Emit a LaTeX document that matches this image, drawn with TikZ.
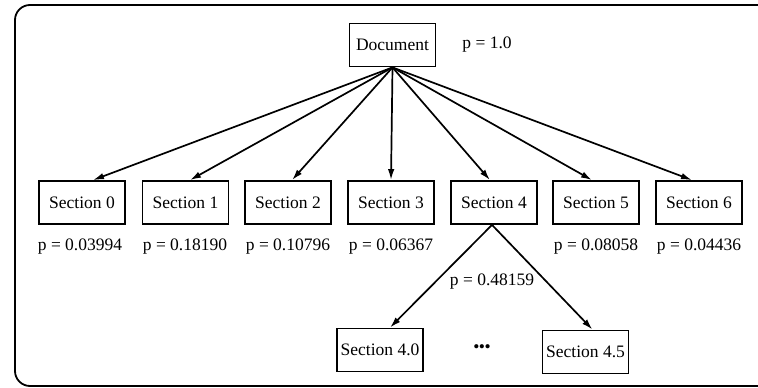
\documentclass[tikz,border=0pt]{standalone}
\usepackage{fontspec}
\setmainfont{Liberation Serif}
\usetikzlibrary{arrows.meta}
\begin{document}
\begin{tikzpicture}[x=1pt,y=-1pt,
  box/.style={draw, line width=1.8pt, minimum width=86pt, minimum height=43pt, inner sep=0pt, font=\fontsize{17.5}{20}\selectfont},
  lbl/.style={font=\fontsize{17.5}{20}\selectfont, inner sep=1pt},
  arr/.style={line width=1.7pt, -{Latex[length=11pt,width=6.5pt]}}]
\useasboundingbox (0,0) rectangle (758,388);
\clip (0,0) rectangle (758,388);
% frame
\draw[line width=1.8pt, rounded corners=15pt] (775,5) -- (15,5) -- (15,386) -- (775,386);
% nodes
\node[box] (doc) at (392.5,45) {Document};
\node[lbl] (pdoc) at (487,45) {p = 1.0};
\node[box] (s0) at (82,202.5) {Section 0};
\node[box] (s1) at (185.5,202.5) {Section 1};
\node[box] (s2) at (288,202.5) {Section 2};
\node[box] (s3) at (391,202.5) {Section 3};
\node[box] (s4) at (494,202.5) {Section 4};
\node[box] (s5) at (596,202.5) {Section 5};
\node[box] (s6) at (699,202.5) {Section 6};
\node[lbl] (p0) at (80,247) {p = 0.03994};
\node[lbl] (p1) at (185,247) {p = 0.18190};
\node[lbl] (p2) at (288,247) {p = 0.10796};
\node[lbl] (p3) at (391,247) {p = 0.06367};
\node[lbl] (p5) at (596,247) {p = 0.08058};
\node[lbl] (p6) at (699,247) {p = 0.04436};
\node[lbl] (p4) at (492,282) {p = 0.48159};
\node[box] (s40) at (380,350) {Section 4.0};
\node[box] (s45) at (585.5,352) {Section 4.5};
\node[lbl] (dots) at (482,349) {\textbullet\kern-0.5pt\textbullet\kern-0.5pt\textbullet};
% connectors
\draw[arr] (doc.south) -- ([xshift=11pt]s0.north);
\draw[arr] (doc.south) -- ([xshift=4.5pt]s1.north);
\draw[arr] (doc.south) -- ([xshift=4pt]s2.north);
\draw[arr] (doc.south) -- (s3.north);
\draw[arr] (doc.south) -- ([xshift=-4pt]s4.north);
\draw[arr] (doc.south) -- ([xshift=-4pt]s5.north);
\draw[arr] (doc.south) -- ([xshift=-7pt]s6.north);
\draw[arr] ([xshift=-2pt]s4.south) -- ([xshift=10pt]s40.north);
\draw[arr] ([xshift=-2pt]s4.south) -- ([xshift=7pt]s45.north);
\end{tikzpicture}
\end{document}
